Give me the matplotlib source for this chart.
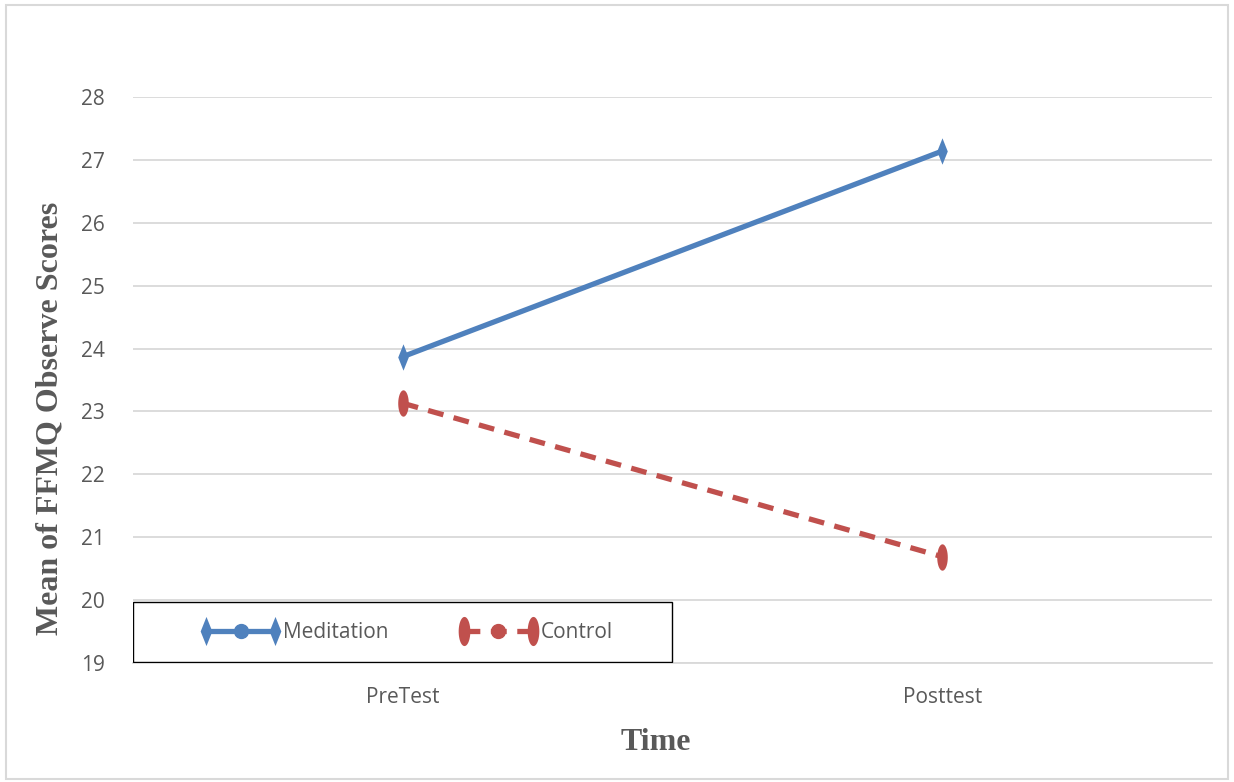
import matplotlib
matplotlib.use("Agg")
import matplotlib.pyplot as plt
from matplotlib.patches import Rectangle
from matplotlib.path import Path
from matplotlib.lines import Line2D
from matplotlib.legend_handler import HandlerTuple, HandlerLine2D
import numpy as np

# mean FFMQ observe scores per group
times = ["PreTest", "Posttest"]
meditation = [23.87, 27.14]
control = [23.13, 20.69]

blue = "#4f81bd"
red = "#c0504d"
grey_txt = "#595959"

# tall narrow marker shapes
t = np.linspace(0, 2 * np.pi, 40)
ellipse = Path(np.column_stack([0.4 * np.cos(t), np.sin(t)]))
thin_diamond = Path([(0, -1), (0.4, 0), (0, 1), (-0.4, 0), (0, -1)],
                    [Path.MOVETO, Path.LINETO, Path.LINETO, Path.LINETO,
                     Path.CLOSEPOLY])


class MidDot(Line2D):
    """legend marker drawn once in the middle of the handle"""


fig = plt.figure(figsize=(12.34, 7.82), dpi=100)
ax = fig.add_axes([0.1078, 0.1522, 0.8744, 0.7238])

x = range(len(times))
ax.plot(x, meditation, color=blue, lw=3.8, marker=thin_diamond,
        markersize=19, markeredgewidth=0)
ax.plot(x, control, color=red, lw=3.8, ls=(0, (3, 2)), marker=ellipse,
        markersize=19, markeredgewidth=0)

ax.set_xlim(-0.5, 1.5)
ax.set_ylim(19, 28)
ax.set_yticks(range(19, 29))
ax.set_xticks(list(x))
ax.set_xticklabels(times)
ax.grid(axis="y", color="#d9d9d9", lw=1.3)
ax.set_axisbelow(True)
for s in ["top", "right", "left"]:
    ax.spines[s].set_visible(False)
ax.spines["bottom"].set_color("#d9d9d9")
ax.spines["bottom"].set_linewidth(1.3)
ax.tick_params(length=0, labelsize=15, labelcolor=grey_txt, pad=20,
               labelfontfamily="Open Sans")
ax.tick_params(axis="x", pad=17)

ax.set_ylabel("Mean of FFMQ Observe Scores", fontsize=23, fontweight="bold",
              family="Liberation Serif", color=grey_txt)
ax.set_xlabel("Time", fontsize=23, fontweight="bold",
              family="Liberation Serif", color=grey_txt)
ax.yaxis.set_label_coords(-0.064, 0.433)
ax.xaxis.set_label_coords(0.4847, -0.114)

# legend handles: end markers plus a round marker in the middle
med_ends = Line2D([], [], color=blue, lw=3.8, marker=thin_diamond,
                  markersize=21, markeredgewidth=0)
med_mid = MidDot([], [], ls="none", color=blue, marker="o", markersize=10)
con_ends = Line2D([], [], color=red, lw=3.8, ls=(0, (3, 2)), marker=ellipse,
                  markersize=21, markeredgewidth=0)
con_mid = MidDot([], [], ls="none", color=red, marker="o", markersize=10)

leg = ax.legend([(med_ends, med_mid), (con_ends, con_mid)],
                ["Meditation", "Control"],
                handler_map={tuple: HandlerTuple(ndivide=1),
                             MidDot: HandlerLine2D(numpoints=1)},
                loc="center", bbox_to_anchor=(0.2535, 0.054), ncol=2,
                numpoints=2, handlelength=3.9, handletextpad=0.1,
                columnspacing=3.3, frameon=False,
                prop={"family": "Open Sans", "size": 15})
for txt in leg.get_texts():
    txt.set_color(grey_txt)

# legend box
ax.add_patch(Rectangle((0, 0.002), 0.4995, 0.106, transform=ax.transAxes,
                       facecolor="white", edgecolor="black", lw=1.0,
                       zorder=4))
leg.set_zorder(5)

# outer chart border
fig.patches.append(Rectangle((0.005, 0.004), 0.99, 0.99,
                             transform=fig.transFigure, fill=False,
                             edgecolor="#d9d9d9", lw=1.5))

fig.savefig("out.png", dpi=100)
